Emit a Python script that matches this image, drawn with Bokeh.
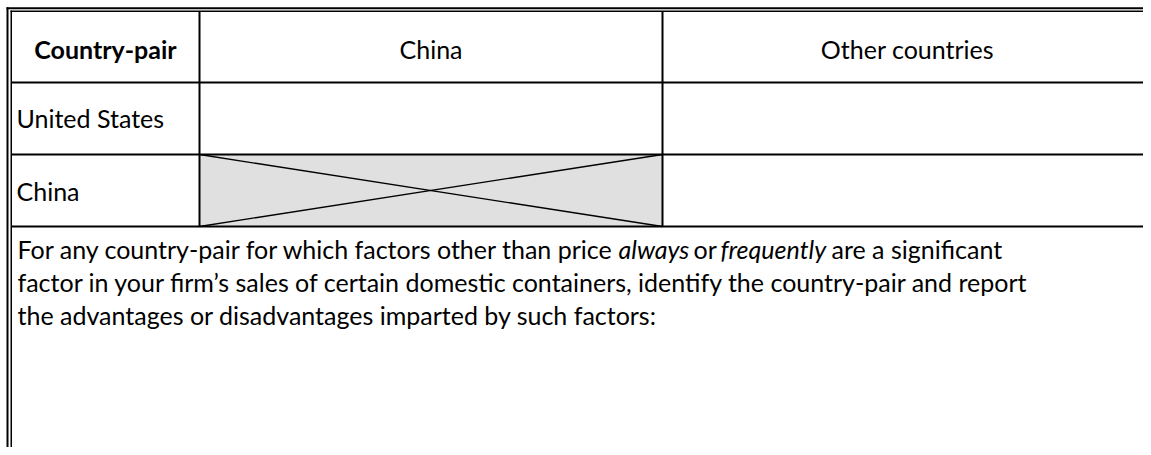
from bokeh.plotting import figure
from bokeh.models import Range1d
from bokeh.core.properties import value
from bokeh.embed import file_html
from bokeh.resources import INLINE

# ---- data (texts of the table) ----
corner_label = "Country-pair"
col_labels = ["China", "Other countries"]
row_labels = ["United States", "China"]
para_line1 = ["For any country-pair for which factors other than price", "always", "or", "frequently", "are a significant"]
para_line1_italic = [False, True, False, True, False]
para_lines_rest = [
    "factor in your firm\u2019s sales of certain domestic containers, identify the country-pair and report",
    "the advantages or disadvantages imparted by such factors:",
]

FONT = "Lato"
FS = "25px"
W, H = 1143, 447

p = figure(width=W, height=H, x_range=Range1d(0, W), y_range=Range1d(H, 0),
           output_backend="svg", toolbar_location=None, x_axis_type=None, y_axis_type=None,
           min_border=0)
p.grid.visible = False
p.outline_line_color = None
p.background_fill_color = "white"
p.border_fill_color = "white"

# layout geometry
col_edges = [11, 199, 662, 1152]
row_edges = [11, 82, 154, 226]

# gray crossed-out cell (China / China)
p.quad(left=col_edges[1], right=col_edges[2], top=row_edges[2], bottom=row_edges[3],
       fill_color="#e0e0e0", line_color=None)
p.segment(x0=[col_edges[1], col_edges[1]], y0=[row_edges[2], row_edges[3]],
          x1=[col_edges[2], col_edges[2]], y1=[row_edges[3], row_edges[2]],
          line_color="black", line_width=1.3)

# inner grid lines
p.segment(x0=[11] * 3, y0=row_edges[1:], x1=[W] * 3, y1=row_edges[1:],
          line_color="black", line_width=2)
p.segment(x0=col_edges[1:3], y0=[11, 11], x1=col_edges[1:3], y1=[row_edges[3]] * 2,
          line_color="black", line_width=2)

# outer double border (top and left)
p.segment(x0=[6], y0=[7.75], x1=[W], y1=[7.75], line_color="black", line_width=2)
p.segment(x0=[10], y0=[10.75], x1=[W], y1=[10.75], line_color="black", line_width=1.5)
p.segment(x0=[7], y0=[6.75], x1=[7], y1=[H], line_color="black", line_width=2)
p.segment(x0=[10.75], y0=[10], x1=[10.75], y1=[H], line_color="black", line_width=1.5)

# header row
hy = 48
p.text(x=[(col_edges[0] + col_edges[1]) / 2], y=[hy], text=[corner_label],
       text_font=value(FONT), text_font_size=FS, text_font_style="bold",
       text_align="center", text_baseline="middle", text_color="black")
p.text(x=[(col_edges[1] + col_edges[2]) / 2, (col_edges[2] + col_edges[3]) / 2], y=[hy, hy],
       text=col_labels, text_font=value(FONT), text_font_size=FS,
       text_align="center", text_baseline="middle", text_color="black")

# row labels
p.text(x=[16, 16], y=[117, 190], text=row_labels, text_font=value(FONT), text_font_size=FS,
       text_align="left", text_baseline="middle", text_color="black")

# paragraph
seg_x = [17, 618, 693, 720, 831]
for sx, t, it in zip(seg_x, para_line1, para_line1_italic):
    p.text(x=[sx], y=[248], text=[t], text_font=value(FONT), text_font_size=FS,
           text_font_style="italic" if it else "normal",
           text_align="left", text_baseline="middle", text_color="black")
p.text(x=[17, 17], y=[281, 314], text=para_lines_rest, text_font=value(FONT), text_font_size=FS,
       text_align="left", text_baseline="middle", text_color="black")

open("out.html", "w").write(file_html(p, INLINE))
